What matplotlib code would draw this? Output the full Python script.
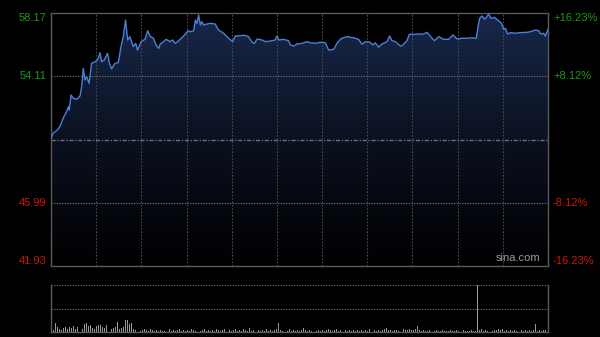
import numpy as np
import matplotlib
matplotlib.use("Agg")
import matplotlib.pyplot as plt
from matplotlib.colors import LinearSegmentedColormap

plt.rcParams['font.family'] = ['Liberation Sans', 'DejaVu Sans']

# Datos (minuto de sesión, precio)
minutos = [0, 1.1, 2.7, 4.3, 5.9, 7.5, 8.4, 8.8, 9.7, 10.8, 12.4, 14.0, 14.8, 15.6, 16.4, 17.2,
           18.4, 19.6, 21.2, 22.5, 23.7, 24.4, 25.7, 27.3, 28.2, 29.3, 30.9, 32.5, 33.8, 34.9,
           36.0, 37.0, 38.1, 39.7, 40.9, 41.8, 43.5, 45.4, 46.7, 48.0, 49.5, 50.7, 52.0, 52.8,
           54.4, 55.5, 57.6, 58.7, 60.0, 61.6, 64.0, 66.2, 67.3, 68.9, 69.7, 70.5, 71.3, 72.1,
           72.9, 73.7, 75.3, 76.9, 79.3, 80.9, 83.3, 85.8, 87.7, 89.0, 93.3, 95.4, 97.1, 98.2,
           99.5, 101.9, 103.5, 105.9, 108.3, 109.1, 109.9, 112.3, 114.7, 115.6, 117.2, 118.8,
           121.2, 123.6, 125.2, 127.6, 130.0, 132.5, 134.1, 136.5, 138.1, 139.4, 140.5, 142.9,
           146.1, 148.5, 150.2, 151.8, 154.2, 155.3, 156.6, 158.2, 159.8, 162.3, 163.5, 164.7,
           166.3, 168.7, 169.5, 171.9, 173.0, 175.1, 177.5, 179.9, 181.6, 184.0, 185.2, 187.2,
           189.6, 192.0, 194.1, 196.1, 198.5, 200.9, 203.3, 205.4, 206.2, 207.0, 208.1, 209.4,
           210.5, 211.3, 212.5, 214.1, 216.1, 217.5, 218.6, 219.4, 220.5, 221.8, 224.2, 226.6,
           229.9, 231.5, 233.9, 235.5, 236.6, 237.9, 238.7, 240]
precios = [50.15, 50.47, 50.61, 50.87, 51.43, 51.83, 52.16, 51.94, 52.91, 52.69, 52.63, 52.84,
           53.44, 54.62, 53.87, 54.08, 53.66, 54.94, 55.04, 55.15, 55.62, 55.04, 55.15, 55.58,
           54.94, 54.58, 54.94, 54.98, 56.01, 56.65, 57.72, 56.44, 56.65, 56.01, 56.22, 55.79,
           56.33, 56.48, 57.03, 56.65, 56.55, 56.12, 55.90, 56.18, 56.33, 56.48, 56.33, 56.44,
           56.22, 56.39, 56.69, 57.03, 56.97, 57.03, 57.72, 57.51, 58.04, 57.40, 57.61, 57.40,
           57.46, 57.51, 57.46, 57.08, 56.87, 56.55, 56.33, 56.69, 56.74, 56.65, 56.29, 56.22,
           56.50, 56.44, 56.33, 56.37, 56.44, 56.69, 56.44, 56.48, 56.39, 56.12, 56.05, 56.18,
           56.22, 56.33, 56.26, 56.22, 56.29, 56.26, 55.79, 55.84, 56.22, 56.44, 56.55, 56.65,
           56.58, 56.48, 56.16, 56.33, 56.29, 56.12, 56.26, 55.97, 56.18, 56.33, 56.69, 56.39,
           56.33, 56.05, 56.07, 56.39, 56.80, 56.80, 56.82, 56.82, 56.93, 56.55, 56.39, 56.65,
           56.48, 56.48, 56.76, 56.50, 56.55, 56.55, 56.58, 56.55, 57.29, 57.83, 57.98, 57.77,
           57.93, 58.11, 57.83, 57.89, 57.68, 57.51, 57.12, 57.19, 56.82, 56.91, 56.87, 56.91,
           56.93, 56.97, 57.08, 57.03, 56.82, 56.87, 56.69, 57.12]

# Volumen por minuto (unidades relativas)
volumen = [4, 2, 9, 5, 3, 2, 4, 5, 3, 5, 4, 6, 3, 5, 4, 3, 8, 9, 6, 7, 4, 3, 6, 7, 7, 5, 4,
           7, 6, 3, 4, 5, 10, 3, 4, 5, 12, 12, 8, 9, 3, 2,
           2, 1, 2, 3, 2, 1, 3, 2, 1, 2,
           1, 2, 1, 1, 2, 3, 1, 2, 1, 2,
           3, 1, 2, 1, 2, 1, 3, 2, 1, 2,
           1, 2, 3, 1, 2, 1, 2, 1, 3, 2,
           1, 2, 3, 10, 2, 1, 2, 3, 1, 2,
           1, 3, 2, 1, 4, 1, 2, 1, 2, 1,
           2, 1, 3, 1, 2, 1, 2, 3, 9, 2,
           1, 2, 1, 3, 1, 2, 1, 2, 1, 2,
           4, 2, 1, 2, 1, 2, 1, 2, 1, 2,
           1, 2, 3, 2, 1, 2, 3, 1, 2, 1,
           2, 1, 2, 1, 2, 1, 2, 1, 2, 1,
           2, 1, 3, 1, 2, 1, 2, 1, 2, 3,
           4, 2, 2, 1, 2, 2, 1, 2, 3, 2,
           2, 3, 2, 2, 3, 6, 2, 1, 2, 1,
           1, 2, 1, 1, 2, 1, 1, 2, 1, 1,
           1, 2, 1, 1, 2, 1, 1, 2, 1, 1,
           1, 2, 1, 1, 47, 2, 3, 1, 2, 1,
           2, 1, 2, 2, 3, 2, 3, 1, 2, 1,
           2, 1, 2, 1, 4, 2, 1, 2, 1, 2,
           1, 2, 8, 1, 2, 1, 2, 2, 3]

cierre_anterior = 50.05
niveles = [58.17, 54.11, 45.99, 41.93]
etiquetas_pct = ["+16.23%", "+8.12%", "-8.12%", "-16.23%"]

verde = "#1a9a1a"
rojo = "#cc1a0a"
gris_borde = "#5a5a5a"

fig = plt.figure(figsize=(6, 3.37), dpi=100, facecolor="black")
ax = fig.add_axes([51 / 600, 1 - 266 / 337, 497 / 600, 253 / 337], facecolor="black")
axv = fig.add_axes([51 / 600, 1 - 332 / 337, 497 / 600, 47 / 337], facecolor="black")

ymin, ymax = niveles[-1], niveles[0]
ax.set_xlim(0, 240)
ax.set_ylim(ymin, ymax)

# relleno con degradado bajo la curva
cmap = LinearSegmentedColormap.from_list("deg", ["#000000", "#0b1120", "#18284a"])
grad = np.linspace(0, 1, 256).reshape(-1, 1)
img = ax.imshow(grad, extent=[0, 240, ymin, ymax], origin="lower", aspect="auto",
                cmap=cmap, zorder=1)
poly = ax.fill_between(minutos, precios, ymin, facecolor="none", edgecolor="none")
img.set_clip_path(poly.get_paths()[0], transform=ax.transData)

# rejilla
for k in range(1, 11):
    ax.axvline(k * 240 / 11, color="#4a4a4a", lw=0.8, ls=(0, (1.5, 1.5)), zorder=2)
for nivel in [niveles[1], niveles[2]]:
    ax.axhline(nivel, color="#6a6a6a", lw=0.8, ls=(0, (1.2, 1.2)), zorder=2)
ax.axhline(cierre_anterior, color="#707070", lw=1.0, ls=(0, (3, 1.2, 1, 1.2)), zorder=2)

ax.plot(minutos, precios, color="#4a7fd6", lw=1.0, zorder=3)

for s in ax.spines.values():
    s.set_color(gris_borde)
    s.set_linewidth(1.0)
ax.set_xticks([])
ax.set_yticks([])

# etiquetas laterales
tr_izq = ax.get_yaxis_transform()
alineacion = ["top", "center", "center", "bottom"]
for i, nivel in enumerate(niveles):
    color = verde if nivel > cierre_anterior else rojo
    ax.text(-0.01, nivel, f"{nivel:.2f}", transform=tr_izq, ha="right", va=alineacion[i],
            color=color, fontsize=8)
    ax.text(1.01, nivel, etiquetas_pct[i], transform=tr_izq, ha="left", va=alineacion[i],
            color=color, fontsize=8)

ax.text(0.985, 0.012, "sina.com", transform=ax.transAxes, ha="right", va="bottom",
        color="#9a9a9a", fontsize=8, zorder=4)

# panel de volumen
axv.set_xlim(0, 240)
axv.set_ylim(0, max(volumen))
axv.bar(range(len(volumen)), volumen, width=0.45, color="#9a9a9a")
axv.axhline(max(volumen) / 2, color="#6a6a6a", lw=0.8, ls=(0, (1.2, 1.2)))
axv.axhline(max(volumen), color="#6a6a6a", lw=0.8, ls=(0, (1.2, 1.2)))
axv.spines["top"].set_visible(False)
for lado in ["left", "right", "bottom"]:
    axv.spines[lado].set_color(gris_borde)
    axv.spines[lado].set_linewidth(1.0)
axv.set_xticks([])
axv.set_yticks([])

fig.savefig("out.png", dpi=100, facecolor="black")
